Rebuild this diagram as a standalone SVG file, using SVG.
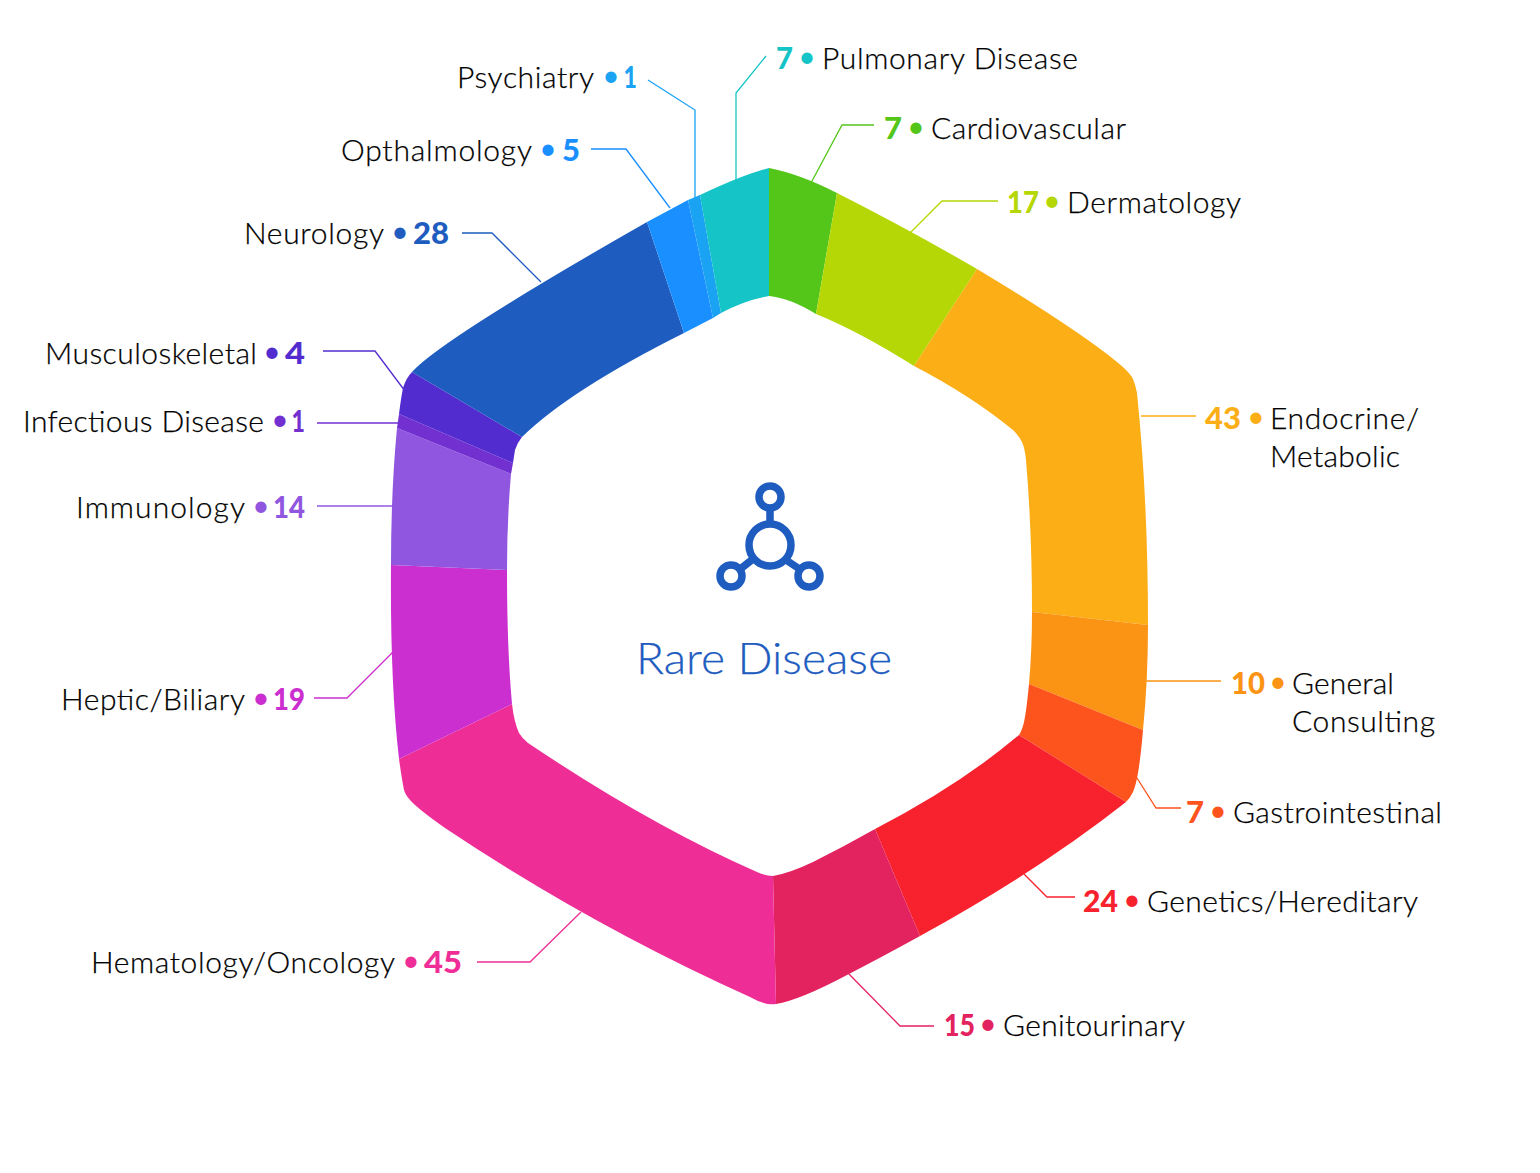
<svg xmlns="http://www.w3.org/2000/svg" width="1540" height="1173" viewBox="0 0 1540 1173">
<style>
text{font-family:"Lato","Open Sans","Liberation Sans",sans-serif;font-size:30px;fill:#000;font-weight:300;stroke:#000;stroke-width:.25px}
.n{font-weight:900;stroke:none}
.d{text-anchor:middle;font-weight:400;stroke:none}
.l{fill:none;stroke-width:1.3}
</style>
<rect width="1540" height="1173" fill="#fff"/>
<g id="connectors">
<path class="l" stroke="#14c4c6" d="M766 56L736 93V180"/>
<path class="l" stroke="#1aa3f2" d="M648 80L695 110V205"/>
<path class="l" stroke="#1a8fff" d="M591 149H626L670 208"/>
<path class="l" stroke="#1e5cc0" d="M462 233H492L541 282"/>
<path class="l" stroke="#532cd0" d="M323 351H375L405 391"/>
<path class="l" stroke="#7230d0" d="M317 423H400"/>
<path class="l" stroke="#9156e0" d="M317 506H393"/>
<path class="l" stroke="#cc2fcf" d="M314 698H347L393 652"/>
<path class="l" stroke="#ee2e96" d="M477 962H530L581 912"/>
<path class="l" stroke="#e32260" d="M934 1026H900L848 973"/>
<path class="l" stroke="#f7222e" d="M1075 897H1047L1024 874"/>
<path class="l" stroke="#fd541e" d="M1181 808H1156L1137 778"/>
<path class="l" stroke="#fb9315" d="M1221 681H1146"/>
<path class="l" stroke="#fcae16" d="M1196 416H1141"/>
<path class="l" stroke="#b5d706" d="M998 201H942L910 233"/>
<path class="l" stroke="#54c61a" d="M874 125H842L811 183"/>
</g>
<g id="ring">
<path id="seg-cardiovascular" fill="#54c61a" d="M769 168Q800 174 837 193L816 314Q790 298 769 296Z"/>
<path id="seg-dermatology" fill="#b5d706" d="M837 193Q910 230 977 269L914 366Q860 332 816 314Z"/>
<path id="seg-endocrine" fill="#fcae16" d="M977 269Q1075 328 1117 362Q1127 370 1132 377Q1135 383 1137 393Q1148 500 1148 625L1032 612Q1032 530 1026 460Q1025 449 1022 442Q1019 436 1013 430Q970 395 914 366Z"/>
<path id="seg-general" fill="#fb9315" d="M1148 625Q1148 680 1143 730L1029 684Q1032 650 1032 612Z"/>
<path id="seg-gastro" fill="#fd541e" d="M1143 730Q1141 755 1138 773Q1136 785 1133 792Q1130 798 1126 802L1019 735Q1023 729 1025 717Q1027 705 1029 684Z"/>
<path id="seg-genetics" fill="#f7222e" d="M1126 802Q1040 870 920 936L875 829Q960 785 1019 735Z"/>
<path id="seg-genitourinary" fill="#e32260" d="M920 936Q880 958 847 975Q800 1000 776 1004L773 876Q790 873 813 862Q845 846 875 829Z"/>
<path id="seg-hematology" fill="#ee2e96" d="M776 1004Q766 1006 750 997Q590 925 445 828Q425 814 415 805Q406 797 404 790Q402 780 399 759L512 704Q514 722 519 733Q522 738 528 743Q650 825 757 872Q766 876 773 876Z"/>
<path id="seg-heptic" fill="#cc2fcf" d="M399 759Q390 680 391 565L507 570Q507 650 512 704Z"/>
<path id="seg-immunology" fill="#9156e0" d="M391 565Q391 490 397 428L511 474Q507 520 507 570Z"/>
<path id="seg-infectious" fill="#7230d0" d="M397 428L399 414L513 463L511 474Z"/>
<path id="seg-musculoskeletal" fill="#532cd0" d="M399 414Q401 398 403 388Q406 378 412 372L522 437Q517 443 515 450Q514 456 513 463Z"/>
<path id="seg-neurology" fill="#1e5cc0" d="M412 372Q440 340 647 222L684 333Q570 390 522 437Z"/>
<path id="seg-opthalmology" fill="#1a8fff" d="M647 222L688 200L713 318L684 333Z"/>
<path id="seg-psychiatry" fill="#1aa3f2" d="M688 200L700 195L721 313L713 318Z"/>
<path id="seg-pulmonary" fill="#14c4c6" d="M700 195Q745 174 769 168V296Q745 300 721 313Z"/>
</g>
<g id="center">
<g fill="none" stroke="#1e5cc0" stroke-width="7.500">
<circle cx="770" cy="545" r="21"/><circle cx="770" cy="497" r="11"/><circle cx="731" cy="576" r="11"/><circle cx="809" cy="576" r="11"/>
<path d="M770 508V524M753 559L739 570M786 560L801 570"/>
</g>
<text x="636" y="674" textLength="256" lengthAdjust="spacingAndGlyphs" style="font-size:43px;fill:#1e5cc0;stroke:#1e5cc0">Rare Disease</text>
</g>
<g id="label-pulmonary"><text class="n" x="776" y="69" textLength="17" lengthAdjust="spacingAndGlyphs" style="fill:#14c4c6">7</text><text class="d" x="807" y="67" style="fill:#14c4c6">•</text><text x="822" y="68.500" textLength="256">Pulmonary Disease</text></g>
<g id="label-cardiovascular"><text class="n" x="884" y="139" textLength="18" lengthAdjust="spacingAndGlyphs" style="fill:#54c61a">7</text><text class="d" x="916" y="137" style="fill:#54c61a">•</text><text x="931" y="138.500" textLength="195">Cardiovascular</text></g>
<g id="label-dermatology"><text class="n" x="1007" y="213" textLength="32" lengthAdjust="spacingAndGlyphs" style="fill:#b5d706">17</text><text class="d" x="1052" y="211" style="fill:#b5d706">•</text><text x="1067" y="212.500" textLength="174">Dermatology</text></g>
<g id="label-endocrine"><text class="n" x="1205" y="429" textLength="36" lengthAdjust="spacingAndGlyphs" style="fill:#fcae16">43</text><text class="d" x="1256" y="427" style="fill:#fcae16">•</text><text x="1270" y="428.500" textLength="149">Endocrine/</text><text x="1270" y="466.500" textLength="130">Metabolic</text></g>
<g id="label-general"><text class="n" x="1231" y="694" textLength="34" lengthAdjust="spacingAndGlyphs" style="fill:#fb9315">10</text><text class="d" x="1278" y="692" style="fill:#fb9315">•</text><text x="1292" y="693.500" textLength="102">General</text><text x="1292" y="731.500" textLength="143">Consulting</text></g>
<g id="label-gastro"><text class="n" x="1186" y="823" textLength="18" lengthAdjust="spacingAndGlyphs" style="fill:#fd541e">7</text><text class="d" x="1218" y="821" style="fill:#fd541e">•</text><text x="1233" y="822.500" textLength="209">Gastrointestinal</text></g>
<g id="label-genetics"><text class="n" x="1083" y="912" textLength="35" lengthAdjust="spacingAndGlyphs" style="fill:#f7222e">24</text><text class="d" x="1132" y="910" style="fill:#f7222e">•</text><text x="1147" y="911.500" textLength="271">Genetics/Hereditary</text></g>
<g id="label-genitourinary"><text class="n" x="944" y="1036" textLength="31" lengthAdjust="spacingAndGlyphs" style="fill:#e32260">15</text><text class="d" x="988" y="1034" style="fill:#e32260">•</text><text x="1003" y="1035.500" textLength="182">Genitourinary</text></g>
<g id="label-hematology"><text x="91" y="972.500" textLength="304">Hematology/Oncology</text><text class="d" x="411" y="971" style="fill:#ee2e96">•</text><text class="n" x="424" y="973" textLength="38" lengthAdjust="spacingAndGlyphs" style="fill:#ee2e96">45</text></g>
<g id="label-heptic"><text x="61" y="709.500" textLength="184">Heptic/Biliary</text><text class="d" x="261" y="708" style="fill:#cc2fcf">•</text><text class="n" x="273" y="710" textLength="32" lengthAdjust="spacingAndGlyphs" style="fill:#cc2fcf">19</text></g>
<g id="label-immunology"><text x="76" y="517.500" textLength="169">Immunology</text><text class="d" x="261" y="516" style="fill:#9156e0">•</text><text class="n" x="273" y="518" textLength="32" lengthAdjust="spacingAndGlyphs" style="fill:#9156e0">14</text></g>
<g id="label-infectious"><text x="23" y="431.500" textLength="241">Infectious Disease</text><text class="d" x="280" y="430" style="fill:#7230d0">•</text><text class="n" x="291.400" y="432" textLength="13.400" lengthAdjust="spacingAndGlyphs" style="fill:#7230d0">1</text></g>
<g id="label-musculoskeletal"><text x="45" y="363.500" textLength="212">Musculoskeletal</text><text class="d" x="272" y="362" style="fill:#532cd0">•</text><text class="n" x="285" y="364" textLength="20" lengthAdjust="spacingAndGlyphs" style="fill:#532cd0">4</text></g>
<g id="label-neurology"><text x="244" y="243.500" textLength="140">Neurology</text><text class="d" x="400" y="242" style="fill:#1e5cc0">•</text><text class="n" x="413" y="244" textLength="36" lengthAdjust="spacingAndGlyphs" style="fill:#1e5cc0">28</text></g>
<g id="label-opthalmology"><text x="341" y="160.500" textLength="191">Opthalmology</text><text class="d" x="548" y="159" style="fill:#1a8fff">•</text><text class="n" x="562" y="161" textLength="18" lengthAdjust="spacingAndGlyphs" style="fill:#1a8fff">5</text></g>
<g id="label-psychiatry"><text x="457" y="87.500" textLength="137">Psychiatry</text><text class="d" x="611" y="86" style="fill:#1aa3f2">•</text><text class="n" x="623.400" y="88" textLength="13.400" lengthAdjust="spacingAndGlyphs" style="fill:#1aa3f2">1</text></g>
</svg>
